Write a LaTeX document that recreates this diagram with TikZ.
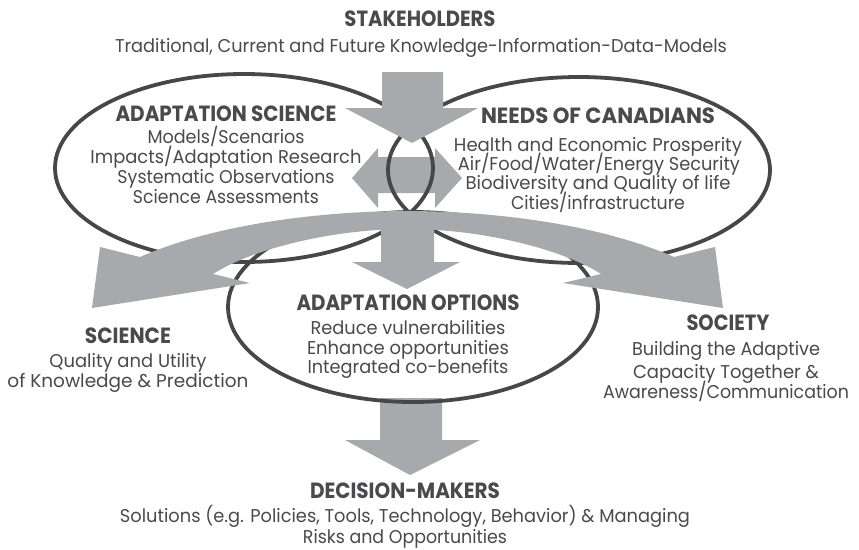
\documentclass[tikz,border=0pt]{standalone}
\usepackage{graphicx}
\usepackage{fontspec}
\setmainfont{Poppins}
\definecolor{arrowgray}{HTML}{A7A9AC}
\definecolor{ringgray}{HTML}{47474A}
\definecolor{textgray}{HTML}{4A4A4C}
\newcommand{\fitw}[2]{\resizebox{#1pt}{\height}{#2}}
\tikzset{
  arrowfill/.style={fill=arrowgray, draw=none},
  ring/.style={draw=ringgray, line width=3.8pt},
  headtxt/.style={font=\fontsize{22}{22}\selectfont\bfseries, text=textgray, anchor=base, inner sep=0pt},
  bodytxt/.style={font=\fontsize{18.5}{18.5}\selectfont, text=textgray, anchor=base, inner sep=0pt},
}
\begin{document}
\begin{tikzpicture}[x=1pt,y=-1pt]
\useasboundingbox[fill=white] (0,0) rectangle (859,549);

% double arrow and bottom arrow (under the rings)
\fill[arrowfill] (352,178) -- (378,148) -- (378,157) -- (435,157) -- (435,148) -- (462,178)
  -- (435,208) -- (435,193) -- (378,193) -- (378,208) -- cycle;
\fill[arrowfill] (380,398) -- (442,398) -- (442,440) -- (480,440) -- (410,475) -- (345,440) -- (380,440) -- cycle;

% rings
\draw[ring] (244,168) ellipse [x radius=189, y radius=94];
\draw[ring] (579,170) ellipse [x radius=191, y radius=93];
\draw[ring] (413,307) ellipse [x radius=185, y radius=95];

% curved band with two heads
\fill[arrowfill] (100,247) -- (140,257) .. controls (220,222) and (330,211) .. (407,211)
  .. controls (484,211) and (594,222) .. (674,257) -- (715,247) -- (723,308) -- (563,283)
  -- (601,274) .. controls (564,250) and (484,229) .. (407,229)
  .. controls (330,229) and (250,250) .. (213,274) -- (250,283) -- (92,308) -- cycle;

% middle down arrow
\fill[arrowfill] (381,212) -- (434,212) -- (434,262) -- (460,262) -- (407,289) -- (352,262) -- (381,262) -- cycle;

% top down arrow
\fill[arrowfill] (382,72) -- (443,72) -- (443,108) -- (478,108) -- (412,143) -- (345,108) -- (382,108) -- cycle;

% texts
\node[headtxt] (stake) at (420,26) {\fitw{151}{STAKEHOLDERS}};
\node[bodytxt] (trad) at (421,52) {\fitw{612}{Traditional, Current and Future Knowledge-Information-Data-Models}};

\node[headtxt] (as) at (226,121) {\fitw{221}{ADAPTATION SCIENCE}};
\node[bodytxt] (as1) at (226,143) {\fitw{157}{Models/Scenarios}};
\node[bodytxt] (as2) at (226,163) {\fitw{271}{Impacts/Adaptation Research}};
\node[bodytxt] (as3) at (226,183) {\fitw{217}{Systematic Observations}};
\node[bodytxt] (as4) at (226,203) {\fitw{186}{Science Assessments}};

\node[headtxt] (nc) at (598,123.5) {\fitw{234}{NEEDS OF CANADIANS}};
\node[bodytxt] (nc1) at (598,151) {\fitw{288}{Health and Economic Prosperity}};
\node[bodytxt] (nc2) at (599,170) {\fitw{282}{Air/Food/Water/Energy Security}};
\node[bodytxt] (nc3) at (598,189) {\fitw{265}{Biodiversity and Quality of life}};
\node[bodytxt] (nc4) at (598,209) {\fitw{174}{Cities/infrastructure}};

\node[headtxt] (ao) at (408,310.5) {\fitw{223}{ADAPTATION OPTIONS}};
\node[bodytxt] (ao1) at (408,334) {\fitw{195}{Reduce vulnerabilities}};
\node[bodytxt] (ao2) at (408,354) {\fitw{202}{Enhance opportunities}};
\node[bodytxt] (ao3) at (408,373) {\fitw{201}{Integrated co-benefits}};

\node[headtxt] (sci) at (128,343) {\fitw{86}{SCIENCE}};
\node[bodytxt] (sci1) at (128,367) {\fitw{157}{Quality and Utility}};
\node[bodytxt] (sci2) at (128,387) {\fitw{241}{of Knowledge \& Prediction}};

\node[headtxt] (soc) at (728,330) {\fitw{83}{SOCIETY}};
\node[bodytxt] (soc1) at (726,355) {\fitw{188}{Building the Adaptive}};
\node[bodytxt] (soc2) at (726,378) {\fitw{186}{Capacity Together \&}};
\node[bodytxt] (soc3) at (726,398) {\fitw{246}{Awareness/Communication}};

\node[headtxt] (dm) at (405,498) {\fitw{190}{DECISION-MAKERS}};
\node[bodytxt] (dm1) at (405,522) {\fitw{570}{Solutions (e.g. Policies, Tools, Technology, Behavior) \& Managing}};
\node[bodytxt] (dm2) at (405,543) {\fitw{204}{Risks and Opportunities}};
\end{tikzpicture}
\end{document}
